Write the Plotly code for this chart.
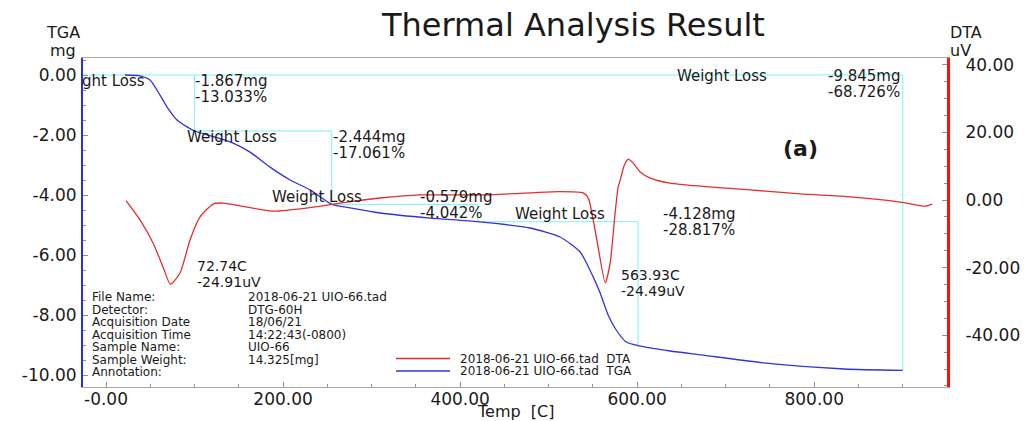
import numpy as np
import plotly.graph_objects as go

# ---------------- data ----------------
tga_temp = [21.5, 38.4, 49.7, 61, 69, 80.2, 91.5, 100, 123.2, 143.5, 162.7, 185.3, 208,
            230.5, 255, 275.7, 309.6, 366, 420, 479, 513, 535.6, 550.3, 558.2, 567.2,
            576.3, 587.6, 601, 637.3, 672.3, 753.7, 833.9, 900]
tga_mg = [0, -0.03, -0.17, -0.67, -1.07, -1.5, -1.73, -1.867, -2.07, -2.27, -2.57, -3.07, -3.5,
          -3.83, -4.311, -4.43, -4.6, -4.77, -4.89, -5.1, -5.4, -5.9, -6.73, -7.27, -8.0,
          -8.5, -8.9, -9.018, -9.2, -9.33, -9.63, -9.8, -9.845]

dta_temp = [22.6, 38.4, 53.1, 64.4, 72.74, 83.6, 94.9, 106.2, 120.9, 132.2, 159.3, 188.7,
            233.9, 264.4, 290.4, 309.6, 354.8, 422.6, 479.1, 512, 539, 545,
            550.3, 555.9, 563.93, 569.5, 575.1, 578.5, 580.8, 585.5, 590, 595.5, 603.4,
            614.7, 637.3, 671.2, 727.7, 784.2, 840.7, 897.2, 925.4, 933.3]
dta_uv = [-0.2, -5.9, -12.7, -19.8, -24.91, -21.6, -11.8, -5.0, -1.2, -0.9, -2.1, -3.3,
          -2.1, -0.9, 0.0, 0.6, 1.5, 1.5, 2.1, 2.5, 2.1, 0.4,
          -5.9, -13.9, -24.49, -18.6, -3.8, 3.8, 5.9, 10.3, 12.1, 10.9, 8.3,
          6.5, 5.0, 4.1, 3.0, 1.8, 0.9, -0.6, -1.8, -1.2]

dta_peak_temp = [72.74, 563.93]
dta_peak_uv = [-24.91, -24.49]

step_end_temp = [100, 255, 420, 601]
loss_mg = [1.867, 2.444, 0.579, 4.128]
loss_pct = [13.033, 17.061, 4.042, 28.817]
total_end_temp = 900
total_mg = 9.845
total_pct = 68.726

x_tickvals = [0, 200, 400, 600, 800]
x_ticktext = ["-0.00", "200.00", "400.00", "600.00", "800.00"]
y_tickvals = [0, -2, -4, -6, -8, -10]
y_ticktext = ["0.00", "-2.00", "-4.00", "-6.00", "-8.00", "-10.00"]
y2_tickvals = [40, 20, 0, -20, -40]
y2_ticktext = ["40.00", "20.00", "0.00", "-20.00", "-40.00"]

info_labels = ["File Name:", "Detector:", "Acquisition Date", "Acquisition Time",
               "Sample Name:", "Sample Weight:", "Annotation:"]
info_values = ["2018-06-21 UIO-66.tad", "DTG-60H", "18/06/21", "14:22:43(-0800)",
               "UIO-66", "14.325[mg]", ""]
legend_names = ["2018-06-21 UIO-66.tad  DTA", "2018-06-21 UIO-66.tad  TGA"]

# ---------------- styles ----------------
W, H = 1035, 421
L, R, T, B = 83, 947, 58, 387
FONT = "DejaVu Sans"
TXT = "#1a1a1a"
BLUE = "#3434d6"
RED = "#e23030"
CYAN = "#7ff0fa"


def px(x):
    return (x - L) / (R - L)


def py(y):
    return (B - y) / (B - T)


fig = go.Figure()

# weight-loss step guide lines (cyan)
levels = -np.cumsum(loss_mg)
hx, hy = [], []
for i in range(len(step_end_temp) - 1):
    hx += [step_end_temp[i], step_end_temp[i + 1], None]
    hy += [levels[i], levels[i], None]
vx, vy = [], []
prev = 0.0
for t, lv in zip(step_end_temp, levels):
    vx += [t, t, None]
    vy += [prev, lv, None]
    prev = lv
fig.add_trace(go.Scatter(x=[-40, total_end_temp, total_end_temp, None] + hx + vx,
                         y=[0, 0, -total_mg, None] + hy + vy,
                         mode="lines", line=dict(color=CYAN, width=1),
                         showlegend=False, hoverinfo="skip", connectgaps=False))

fig.add_trace(go.Scatter(x=dta_temp, y=dta_uv, yaxis="y2", mode="lines",
                         line=dict(color=RED, width=1.3, shape="spline", smoothing=0.6),
                         showlegend=False))
fig.add_trace(go.Scatter(x=tga_temp, y=tga_mg, mode="lines",
                         line=dict(color=BLUE, width=1.3, shape="spline", smoothing=0.6),
                         showlegend=False))

ann = []


def text(x, y, s, size=15, anchor="left", weight="normal", xref="paper", yref="paper"):
    ann.append(dict(x=x, y=y, xref=xref, yref=yref, text=s, showarrow=False,
                    xanchor=anchor, yanchor="middle", borderpad=0,
                    font=dict(family=FONT, size=size, color=TXT, weight=weight)))


# title and axis captions
text(px(573), py(25), "Thermal Analysis Result", size=32, anchor="center")
text(px(63), py(32), "TGA", size=16, anchor="center")
text(px(63), py(50), "mg", size=16, anchor="center")
text(px(966), py(32), "DTA", size=16, anchor="center")
text(px(960), py(50), "uV", size=16, anchor="center")
text(px(515), py(411), "Temp\u00a0 [C]", size=16, anchor="center")
text(px(800), py(148), "(a)", size=22, anchor="center", weight="bold")

# weight-loss labels
lbl = "Weight Loss"
text(px(81), py(81), "ght Loss")
text(px(194), py(81), f"-{loss_mg[0]:.3f}mg")
text(px(194), py(97), f"-{loss_pct[0]:.3f}%")
text(px(186), py(137), lbl)
text(px(332), py(137), f"-{loss_mg[1]:.3f}mg")
text(px(332), py(153), f"-{loss_pct[1]:.3f}%")
text(px(271), py(197), lbl)
text(px(419), py(197), f"-{loss_mg[2]:.3f}mg")
text(px(419), py(213), f"-{loss_pct[2]:.3f}%")
text(px(514), py(214), lbl)
text(px(662), py(214), f"-{loss_mg[3]:.3f}mg")
text(px(662), py(230), f"-{loss_pct[3]:.3f}%")
text(px(676), py(76), lbl)
text(px(827), py(76), f"-{total_mg:.3f}mg")
text(px(827), py(92), f"-{total_pct:.3f}%")

# DTA peak labels (anchored to peak data, shifted)
shifts = [(26, 18), (15, 8)]
for (t, u), (dx, dy) in zip(zip(dta_peak_temp, dta_peak_uv), shifts):
    for k, s in enumerate([f"{t:.2f}C", f"{u:.2f}uV"]):
        ann.append(dict(x=t, y=u, xref="x", yref="y2", text=s, showarrow=False,
                        xanchor="left", yanchor="middle", xshift=dx, yshift=dy - 16 * k,
                        borderpad=0, font=dict(family=FONT, size=14, color=TXT)))

# info block
info_y = [297, 309.5, 322, 334.5, 347, 359.5, 372]
for lab, val, yy in zip(info_labels, info_values, info_y):
    text(px(91), py(yy), lab, size=12)
    if val:
        text(px(247), py(yy), val, size=12)

# manual legend
leg_y = [358.5, 371]
leg_col = [RED, BLUE]
shapes = []
for name, yy, col in zip(legend_names, leg_y, leg_col):
    shapes.append(dict(type="line", xref="paper", yref="paper", x0=px(396), x1=px(450),
                       y0=py(yy), y1=py(yy), line=dict(color=col, width=1.3)))
    text(px(459), py(yy), name, size=12)

tickfont = dict(family=FONT, size=17, color=TXT)
fig.update_layout(
    width=W, height=H,
    margin=dict(l=L, r=W - R, t=T, b=H - B, pad=0),
    paper_bgcolor="white", plot_bgcolor="white",
    showlegend=False,
    xaxis=dict(range=[-26, 950], showgrid=False, zeroline=False,
               showline=True, linecolor="#a8a8a8", linewidth=1, mirror=True,
               ticks="inside", ticklen=5, tickcolor="#909090",
               tickvals=x_tickvals, ticktext=x_ticktext, tickfont=tickfont,
               ticklabelstandoff=-3,
               minor=dict(dtick=50, tick0=0, ticks="inside", ticklen=3, tickcolor="#909090")),
    yaxis=dict(range=[-10.4, 0.567], showgrid=False, zeroline=False,
               showline=True, linecolor="#2b2be0", linewidth=2,
               ticks="inside", ticklen=5, tickcolor="#909090",
               tickvals=y_tickvals, ticktext=y_ticktext, tickfont=tickfont,
               ticklabelstandoff=1,
               minor=dict(dtick=0.5, tick0=0, ticks="inside", ticklen=3, tickcolor="#909090")),
    yaxis2=dict(range=[-55.3, 42.0], overlaying="y", side="right", showgrid=False,
                zeroline=False, showline=True, linecolor="#ff1010", linewidth=3,
                ticks="inside", ticklen=5, tickcolor="#909090",
                tickvals=y2_tickvals, ticktext=y2_ticktext, tickfont=tickfont,
                ticklabelstandoff=12,
                minor=dict(dtick=5, tick0=0, ticks="inside", ticklen=3, tickcolor="#909090")),
    annotations=ann,
    shapes=shapes,
)

fig.write_html("out.html")
